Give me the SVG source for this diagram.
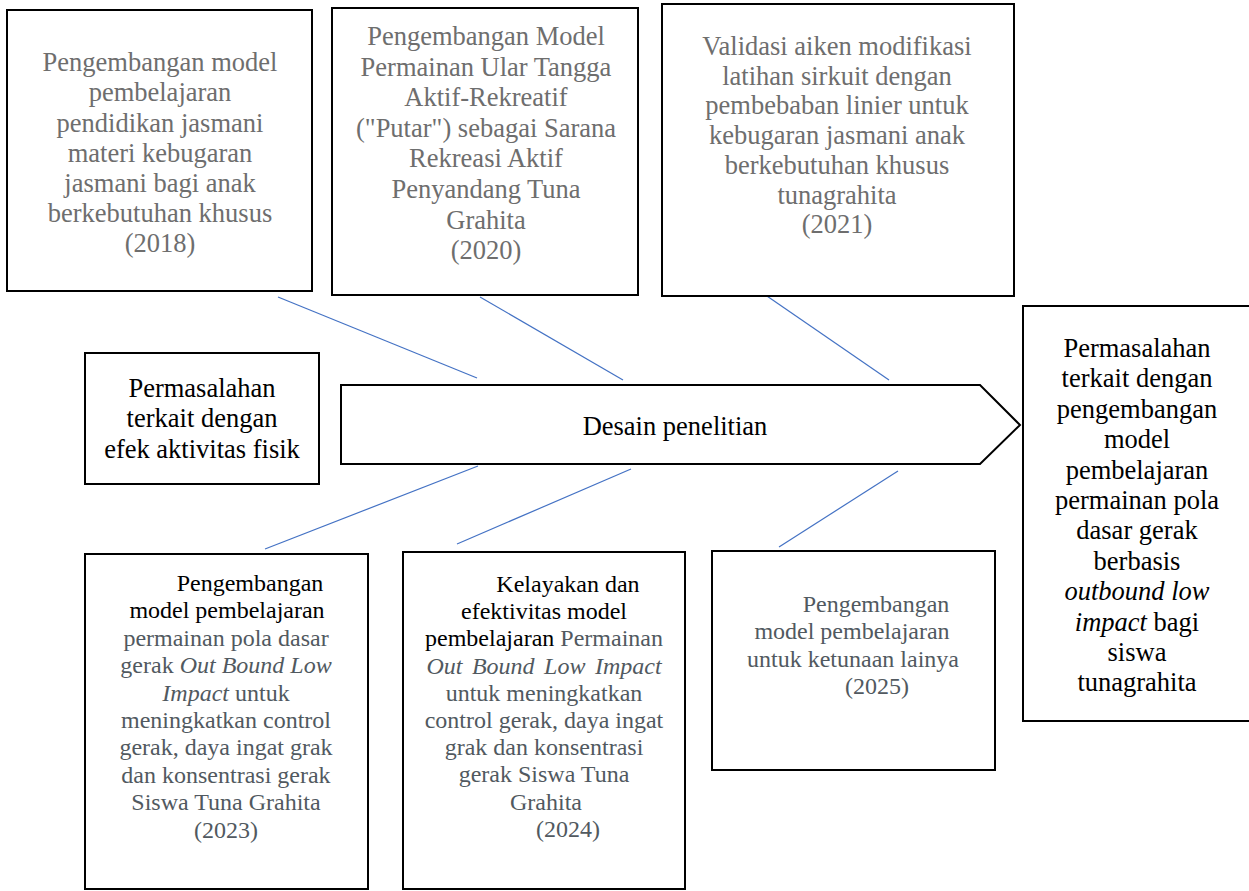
<svg xmlns="http://www.w3.org/2000/svg" width="1249" height="891" viewBox="0 0 1249 891">
<style>
.box{fill:#fff;stroke:#000;stroke-width:2}
.t{font-family:'Liberation Serif',serif;text-anchor:middle}
.big{font-size:26.5px}
.sm{font-size:24px}
.g1{fill:#6e6e6e}
.g2{fill:#515960}
.k{fill:#000}
.i{font-style:italic}
.c{stroke:#4472c4;stroke-width:1.2;fill:none}
</style>
<rect width="1249" height="891" fill="#fff"/>
<g id="connectors">
<line class="c" x1="278" y1="297" x2="477" y2="378"/>
<line class="c" x1="480" y1="297" x2="623" y2="380"/>
<line class="c" x1="764" y1="294" x2="889" y2="380"/>
<line class="c" x1="478" y1="466" x2="265" y2="549"/>
<line class="c" x1="631" y1="469" x2="457" y2="544"/>
<line class="c" x1="898" y1="471" x2="779" y2="547"/>
</g>
<g font-family="Liberation Serif, serif">
<g id="n2018">
<rect class="box" x="7" y="10" width="305" height="281"/>
<text class="t big g1"><tspan x="160" y="71">Pengembangan model</tspan><tspan x="160" y="101">pembelajaran</tspan><tspan x="160" y="131.5">pendidikan jasmani</tspan><tspan x="160" y="161.5">materi kebugaran</tspan><tspan x="160" y="192">jasmani bagi anak</tspan><tspan x="160" y="222">berkebutuhan khusus</tspan><tspan x="160" y="252">(2018)</tspan></text>
</g>
<g id="n2020">
<rect class="box" x="332" y="8" width="306" height="287"/>
<text class="t big g1"><tspan x="486" y="45">Pengembangan Model</tspan><tspan x="486" y="75.6">Permainan Ular Tangga</tspan><tspan x="486" y="106.2">Aktif-Rekreatif</tspan><tspan x="486" y="136.8">("Putar") sebagai Sarana</tspan><tspan x="486" y="167.4">Rekreasi Aktif</tspan><tspan x="486" y="198">Penyandang Tuna</tspan><tspan x="486" y="228.6">Grahita</tspan><tspan x="486" y="259">(2020)</tspan></text>
</g>
<g id="n2021">
<rect class="box" x="662" y="4" width="352" height="292"/>
<text class="t big g1"><tspan x="837" y="55">Validasi aiken modifikasi</tspan><tspan x="837" y="84.7">latihan sirkuit dengan</tspan><tspan x="837" y="114.4">pembebaban linier untuk</tspan><tspan x="837" y="144.1">kebugaran jasmani anak</tspan><tspan x="837" y="173.8">berkebutuhan khusus</tspan><tspan x="837" y="203.5">tunagrahita</tspan><tspan x="837" y="233">(2021)</tspan></text>
</g>
<g id="problem-left">
<rect class="box" x="85" y="353" width="234" height="131"/>
<text class="t big k"><tspan x="202" y="397">Permasalahan</tspan><tspan x="202" y="427">terkait dengan</tspan><tspan x="202" y="458">efek aktivitas fisik</tspan></text>
</g>
<g id="spine">
<path class="box" d="M341,385 H980 L1020,425 L980,464 H341 Z"/>
<text class="t big k" x="675" y="435">Desain penelitian</text>
</g>
<g id="problem-right">
<rect class="box" x="1023" y="306" width="230" height="415"/>
<text class="t big k"><tspan x="1137" y="357">Permasalahan</tspan><tspan x="1137" y="387.4">terkait dengan</tspan><tspan x="1137" y="417.8">pengembangan</tspan><tspan x="1137" y="448.2">model</tspan><tspan x="1137" y="478.6">pembelajaran</tspan><tspan x="1137" y="509">permainan pola</tspan><tspan x="1137" y="539.4">dasar gerak</tspan><tspan x="1137" y="569.8">berbasis</tspan><tspan x="1137" y="600.2" class="i">outbound low</tspan><tspan x="1137" y="630.6"><tspan class="i">impact</tspan> bagi</tspan><tspan x="1137" y="661">siswa</tspan><tspan x="1137" y="691.4">tunagrahita</tspan></text>
</g>
<g id="n2023">
<rect class="box" x="85" y="554" width="283" height="335"/>
<text class="t sm g2"><tspan x="250" y="591" class="k">Pengembangan</tspan><tspan x="227" y="618.4" class="k">model pembelajaran</tspan><tspan x="226" y="645.8">permainan pola dasar</tspan><tspan x="226" y="673.2">gerak <tspan class="i">Out Bound Low</tspan></tspan><tspan x="226" y="700.6"><tspan class="i">Impact</tspan>  untuk</tspan><tspan x="226" y="728">meningkatkan control</tspan><tspan x="226" y="755.4">gerak, daya ingat grak</tspan><tspan x="226" y="782.8">dan konsentrasi gerak</tspan><tspan x="226" y="810.2">Siswa Tuna Grahita</tspan><tspan x="226" y="837.6">(2023)</tspan></text>
</g>
<g id="n2024">
<rect class="box" x="403" y="552" width="282" height="337"/>
<text class="t sm g2"><tspan x="568" y="592" class="k">Kelayakan dan</tspan><tspan x="544" y="619.2" class="k">efektivitas model</tspan><tspan x="544" y="646.4"><tspan class="k">pembelajaran</tspan> Permainan</tspan><tspan x="544" y="673.6" class="i" word-spacing="3.5">Out Bound Low Impact</tspan><tspan x="544" y="700.8">untuk meningkatkan</tspan><tspan x="544" y="728">control gerak, daya ingat</tspan><tspan x="544" y="755.2">grak dan konsentrasi</tspan><tspan x="544" y="782.4">gerak Siswa Tuna</tspan><tspan x="546" y="809.6">Grahita</tspan><tspan x="568" y="836.8">(2024)</tspan></text>
</g>
<g id="n2025">
<rect class="box" x="712" y="551" width="283" height="219"/>
<text class="t sm g2"><tspan x="876" y="612">Pengembangan</tspan><tspan x="852" y="639.4">model pembelajaran</tspan><tspan x="853" y="666.8">untuk ketunaan lainya</tspan><tspan x="877" y="694.2">(2025)</tspan></text>
</g>
</g>
</svg>
